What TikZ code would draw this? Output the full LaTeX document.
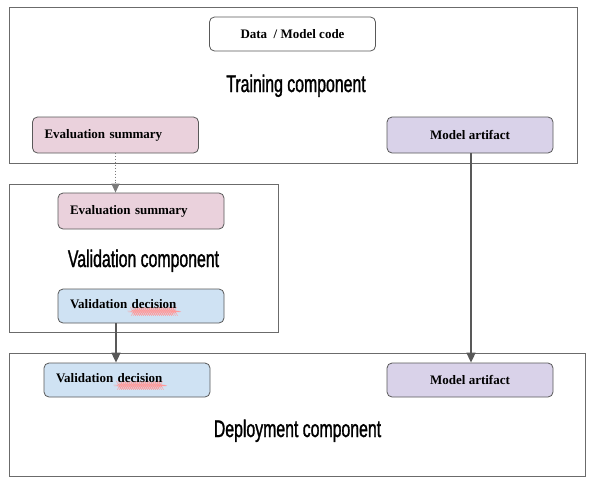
\documentclass[tikz,border=0pt]{standalone}
\usepackage{fontspec}
\setmainfont{Liberation Serif}
\newfontfamily\titlefont[FakeStretch=0.66,FakeBold=1.2]{Liberation Sans}
\usetikzlibrary{arrows.meta,decorations.pathmorphing,calc}
\definecolor{pinkf}{HTML}{EAD1DC}
\definecolor{lavf}{HTML}{D9D2E9}
\definecolor{bluef}{HTML}{CFE2F3}
\definecolor{edge}{HTML}{595959}
\definecolor{frame}{HTML}{6B6B6B}
\newcommand\squig[1]{\setbox0=\hbox{#1}\rlap{\raisebox{-3.2pt}{\tikz[x=1pt,y=1pt]\draw[red!40,line width=0.35pt,decorate,decoration={snake,amplitude=0.5pt,segment length=2pt}](0,0)--(\wd0,0);}}#1}
\tikzset{
  comp/.style={draw=frame,line width=0.8pt},
  title/.style={font=\titlefont\fontsize{24}{28}\selectfont,anchor=base,inner sep=0pt},
  box/.style={draw=edge,line width=0.8pt,rounded corners=5pt,font=\bfseries\fontsize{13}{15}\selectfont,minimum width=166pt,inner sep=0pt},
  lbox/.style={box,text width=142pt,align=left,inner xsep=12pt},
  arr/.style={draw=edge,line width=1.6pt,-{Triangle[length=10pt,width=9pt]}},
  darr/.style={draw=edge!80,line width=0.9pt,dotted,-{Triangle[length=9pt,width=8pt]}}
}
\begin{document}
\begin{tikzpicture}[x=1pt,y=-1pt]
\useasboundingbox (0,0) rectangle (593,485);
\fill[white] (0,0) rectangle (593,485);
% components
\draw[comp] (9,7.5) rectangle (577,163);
\draw[comp] (9,184) rectangle (278,332);
\draw[comp] (9,353) rectangle (585,476);
\node[title] (ttrain) at (296,92) {Training component};
\node[title] (tval) at (143.5,267) {Validation component};
\node[title] (tdep) at (297.5,437) {Deployment component};
% boxes
\node[box,fill=white,minimum height=34pt] (data) at (292.5,34) {Data\ \ / Model code};
\node[lbox,fill=pinkf,minimum height=36pt] (evalT) at (115.5,135) {Evaluation summary};
\node[box,fill=lavf,minimum height=36pt] (artT) at (470,135) {Model artifact};
\node[lbox,fill=pinkf,minimum height=36pt] (evalV) at (141,211) {Evaluation summary};
\node[lbox,fill=bluef,minimum height=34pt] (decV) at (141,306) {Validation \squig{decision}};
\node[lbox,fill=bluef,minimum height=34pt] (decD) at (127,380) {Validation \squig{decision}};
\node[box,fill=lavf,minimum height=34pt] (artD) at (470,380) {Model artifact};
% connectors
\draw[darr] (evalT.south) -- (evalT.south |- evalV.north);
\draw[arr] ([xshift=-25pt]decV.south) -- ([xshift=-25pt]decV.south |- decD.north);
\draw[arr] ([xshift=1pt]artT.south) -- ([xshift=1pt]artD.north);
\end{tikzpicture}
\end{document}
